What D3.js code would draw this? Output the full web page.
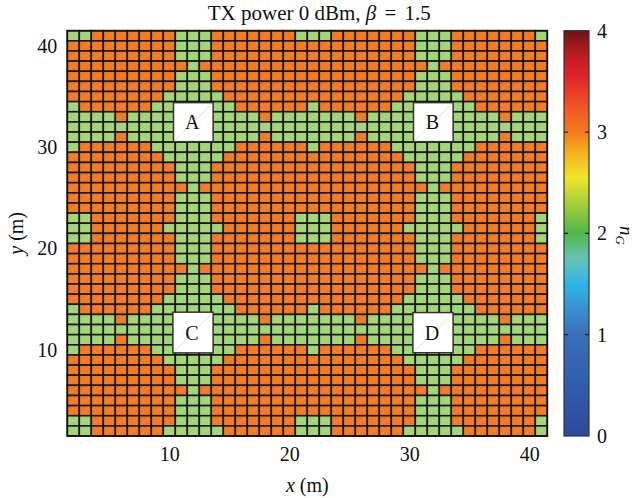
<!DOCTYPE html>
<html>
<head>
<meta charset="utf-8">
<script src="https://cdn.jsdelivr.net/npm/d3@7"></script>
<style>
  body { margin: 0; background: #fff; }
  svg { display: block; font-family: "Liberation Serif", "Times New Roman", serif; }
</style>
</head>
<body>
<div id="chart"></div>
<script>
// n_G of every grid cell, one string per row, top row (y = 41 m) first,
// each character is the cell at x = 2 .. 41 m
const gridRows = [
  "2233333332223333333222333333322233333332",
  "3333333332223333333333333333322233333333",
  "3333333332223333333333333333322233333333",
  "3333333333233333333333333333332333333333",
  "3333333332223333333333333333322233333333",
  "3333333332223333333333333333322233333333",
  "3333333322222333333333333333222223333333",
  "2333333222222233333323333332222222333333",
  "2222322222222222322222223222222222223222",
  "2222222222222222222222222222222222222222",
  "2222322222222222322222223222222222223222",
  "2333333222222233333323333332222222333333",
  "3333333322222333333333333333222223333333",
  "3333333332223333333333333333322233333333",
  "3333333332223333333333333333322233333333",
  "3333333333233333333333333333332333333333",
  "3333333332223333333333333333322233333333",
  "3333333332223333333333333333322233333333",
  "2233333332223333333222333333322233333332",
  "2233333322222333333222333333222223333332",
  "2233333332223333333222333333322233333332",
  "3333333332223333333333333333322233333333",
  "3333333332223333333333333333322233333333",
  "3333333333233333333333333333332333333333",
  "3333333332223333333333333333322233333333",
  "3333333332223333333333333333322233333333",
  "3333333322222333333333333333222223333333",
  "2333333222222233333323333332222222333333",
  "2222322222222222322222223222222222223222",
  "2222222222222222222222222222222222222222",
  "2222322222222222322222223222222222223222",
  "2333333222222233333323333332222222333333",
  "3333333322222333333333333333222223333333",
  "3333333332223333333333333333322233333333",
  "3333333332223333333333333333322233333333",
  "3333333333233333333333333333332333333333",
  "3333333332223333333333333333322233333333",
  "3333333332223333333333333333322233333333",
  "2233333332223333333222333333322233333332",
  "2233333322222333333222333333222223333332"
];
const xCells = [2, 3, 4, 5, 6, 7, 8, 9, 10, 11, 12, 13, 14, 15, 16, 17, 18, 19, 20, 21,
                22, 23, 24, 25, 26, 27, 28, 29, 30, 31, 32, 33, 34, 35, 36, 37, 38, 39, 40, 41];
const yCells = [41, 40, 39, 38, 37, 36, 35, 34, 33, 32, 31, 30, 29, 28, 27, 26, 25, 24, 23, 22,
                21, 20, 19, 18, 17, 16, 15, 14, 13, 12, 11, 10, 9, 8, 7, 6, 5, 4, 3, 2];

// access points (white boxes)
const apLabels = ["A", "B", "C", "D"];
const apX0 = [10.35, 30.35, 10.3, 30.3];
const apX1 = [13.65, 33.65, 13.65, 33.65];
const apY0 = [30.55, 30.55, 9.7, 9.72];
const apY1 = [34.4, 34.4, 13.72, 13.68];

const xTicks = [10, 20, 30, 40];
const yTicks = [10, 20, 30, 40];
const cbTicks = [0, 1, 2, 3, 4];
const cbStops = [0, 1, 1.25, 1.5, 1.75, 2, 2.3, 2.55, 2.8, 3, 3.3, 3.55, 3.8, 4];
const cbColours = ["#2b4a9a", "#3a6fb8", "#3a8fd2", "#2eb5e8", "#6ac2b5", "#4db848", "#a8cf3b",
                   "#efe52a", "#f5b01f", "#f47b20", "#ee4d25", "#e1232a", "#b01b22", "#6b1215"];

const width = 637, height = 498;
const margin = { top: 30.7, right: 89.7, bottom: 62, left: 67.3 };

const svg = d3.select("#chart").append("svg")
  .attr("width", width)
  .attr("height", height);

const x = d3.scaleLinear().domain([1.5, 41.5]).range([margin.left, width - margin.right]);
const y = d3.scaleLinear().domain([1.5, 41.5]).range([height - margin.bottom, margin.top]);

const cellColour = d3.scaleOrdinal().domain([2, 3]).range(["#a2d576", "#f47a21"]);

const cells = [];
gridRows.forEach((row, i) => {
  row.split("").forEach((v, j) => cells.push({ x: xCells[j], y: yCells[i], v: +v }));
});

const cellW = x(1) - x(0), cellH = y(0) - y(1);

// cells
const plot = svg.append("g");
plot.selectAll("rect.cell")
  .data(cells)
  .join("rect")
  .attr("class", "cell")
  .attr("x", d => x(d.x - 0.5))
  .attr("y", d => y(d.y + 0.5))
  .attr("width", cellW)
  .attr("height", cellH)
  .attr("fill", d => cellColour(d.v))
  .attr("stroke", "#161616")
  .attr("stroke-width", 1.6);

// the faint dashed diagonal left in every cell by the original renderer
plot.selectAll("line.diag")
  .data(cells)
  .join("line")
  .attr("class", "diag")
  .attr("x1", d => x(d.x - 0.5) + 1.5)
  .attr("y1", d => y(d.y - 0.5) - 1.5)
  .attr("x2", d => x(d.x + 0.5) - 1.5)
  .attr("y2", d => y(d.y + 0.5) + 1.5)
  .attr("stroke", "rgba(255,255,255,0.35)")
  .attr("stroke-width", 0.7)
  .attr("stroke-dasharray", "1 1.4");

// frame
svg.append("rect")
  .attr("x", x(1.5))
  .attr("y", y(41.5))
  .attr("width", x(41.5) - x(1.5))
  .attr("height", y(1.5) - y(41.5))
  .attr("fill", "none")
  .attr("stroke", "#111")
  .attr("stroke-width", 1.6);

// access point boxes
const aps = apLabels.map((l, i) => ({ label: l, x0: apX0[i], x1: apX1[i], y0: apY0[i], y1: apY1[i] }));
const ap = svg.append("g").selectAll("g").data(aps).join("g");
ap.append("rect")
  .attr("x", d => x(d.x0))
  .attr("y", d => y(d.y1))
  .attr("width", d => x(d.x1) - x(d.x0))
  .attr("height", d => y(d.y0) - y(d.y1))
  .attr("fill", "#fff")
  .attr("stroke", "#333")
  .attr("stroke-width", 1.5);
ap.append("line")
  .attr("x1", d => x(d.x0) + 1)
  .attr("y1", d => y(d.y0) - 1)
  .attr("x2", d => x(d.x1) - 1)
  .attr("y2", d => y(d.y1) + 1)
  .attr("stroke", "#d8dccb")
  .attr("stroke-width", 0.8);
ap.append("text")
  .attr("x", d => x((d.x0 + d.x1) / 2) - 1)
  .attr("y", d => y((d.y0 + d.y1) / 2))
  .attr("dy", "0.35em")
  .attr("text-anchor", "middle")
  .style("font-size", "20px")
  .attr("fill", "#111")
  .text(d => d.label);

// axes
const xAxis = svg.append("g")
  .attr("transform", `translate(0,${y(1.5)})`)
  .call(d3.axisBottom(x).tickValues(xTicks).tickSize(0).tickPadding(11));
const yAxis = svg.append("g")
  .attr("transform", `translate(${x(1.5)},0)`)
  .call(d3.axisLeft(y).tickValues(yTicks).tickSize(0).tickPadding(10));
[xAxis, yAxis].forEach(a => {
  a.select(".domain").remove();
  a.selectAll("text")
    .style("font-family", "Liberation Serif, serif")
    .style("font-size", "20px")
    .attr("fill", "#111");
});

// colourbar
const cb = { x: 564, w: 25 };
const cbScale = d3.scaleLinear().domain([0, 4]).range([y(1.5), y(41.5)]);
const cbColour = d3.scaleLinear().domain(cbStops).range(cbColours);

const grad = svg.append("defs").append("linearGradient")
  .attr("id", "cbgrad")
  .attr("x1", 0).attr("y1", 1).attr("x2", 0).attr("y2", 0);
grad.selectAll("stop")
  .data(cbStops)
  .join("stop")
  .attr("offset", d => d / 4)
  .attr("stop-color", d => cbColour(d));

svg.append("rect")
  .attr("x", cb.x)
  .attr("y", cbScale(4))
  .attr("width", cb.w)
  .attr("height", cbScale(0) - cbScale(4))
  .attr("fill", "url(#cbgrad)")
  .attr("stroke", "#333")
  .attr("stroke-width", 1.2);

svg.append("g").selectAll("path")
  .data(cbTicks.slice(1, -1))
  .join("path")
  .attr("d", d => `M${cb.x},${cbScale(d)}h4M${cb.x + cb.w},${cbScale(d)}h-4`)
  .attr("stroke", "#222")
  .attr("stroke-width", 1.2);

const cbAxis = svg.append("g")
  .attr("transform", `translate(${cb.x + cb.w},0)`)
  .call(d3.axisRight(cbScale).tickValues(cbTicks).tickSize(0).tickPadding(8).tickFormat(d3.format("d")));
cbAxis.select(".domain").remove();
cbAxis.selectAll("text")
  .style("font-family", "Liberation Serif, serif")
  .style("font-size", "20px")
  .attr("fill", "#111");

// labels
svg.append("text")
  .attr("x", (x(1.5) + x(41.5)) / 2 + 12)
  .attr("y", 20)
  .attr("text-anchor", "middle")
  .style("font-size", "21px")
  .attr("fill", "#111")
  .call(t => {
    t.append("tspan").text("TX power 0 dBm, ");
    t.append("tspan").style("font-style", "italic").text("β");
    t.append("tspan").attr("dx", 3).text(" =");
    t.append("tspan").attr("dx", 3).text(" 1.5");
  });

svg.append("text")
  .attr("x", (x(1.5) + x(41.5)) / 2)
  .attr("y", 492)
  .attr("text-anchor", "middle")
  .style("font-size", "20px")
  .attr("fill", "#111")
  .call(t => {
    t.append("tspan").style("font-style", "italic").text("x");
    t.append("tspan").text(" (m)");
  });

svg.append("text")
  .attr("transform", `translate(23,${(y(1.5) + y(41.5)) / 2}) rotate(-90)`)
  .attr("text-anchor", "middle")
  .style("font-size", "20px")
  .attr("fill", "#111")
  .call(t => {
    t.append("tspan").style("font-style", "italic").text("y");
    t.append("tspan").text(" (m)");
  });

svg.append("text")
  .attr("transform", `translate(620,${(y(1.5) + y(41.5)) / 2 + 2}) rotate(90)`)
  .attr("text-anchor", "middle")
  .style("font-size", "19px")
  .attr("fill", "#111")
  .call(t => {
    t.append("tspan").style("font-style", "italic").text("n");
    t.append("tspan").attr("dy", 4).style("font-style", "italic").style("font-size", "13px").text("G");
  });
</script>
</body>
</html>
